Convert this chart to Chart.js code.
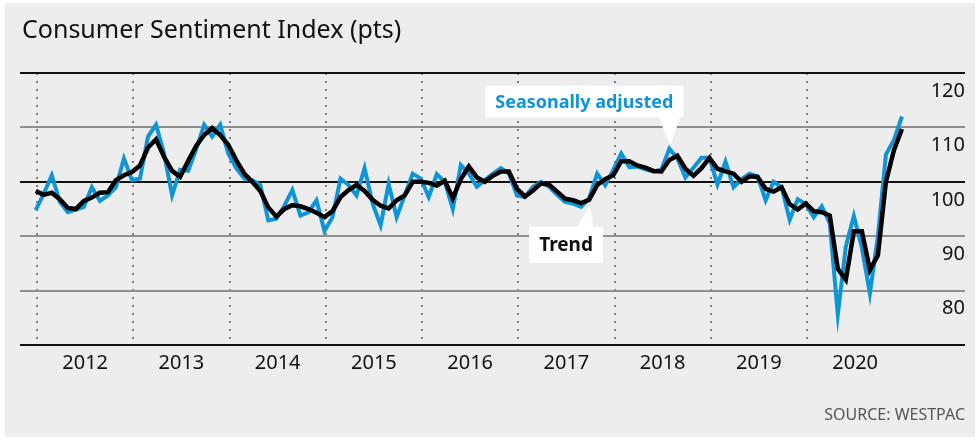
<!DOCTYPE html>
<html>
<head>
<meta charset="utf-8">
<script src="https://cdn.jsdelivr.net/npm/chart.js@4.4.1/dist/chart.umd.min.js"></script>
<style>
  html, body { margin: 0; padding: 0; background: #fff; }
  #panel { position: absolute; left: 5px; top: 3px; width: 970px; height: 434px; background: #ededed; }
  #sentimentChart { position: absolute; left: 0; top: 0; }
</style>
</head>
<body>
<div id="panel"></div>
<canvas id="sentimentChart" width="980" height="444"></canvas>
<script>
// Westpac consumer sentiment, monthly from Dec 2011 to Dec 2020
const firstYear = 2011;
const firstMonth = 12;
const years = [2012, 2013, 2014, 2015, 2016, 2017, 2018, 2019, 2020];
const yLabels = [80, 90, 100, 110, 120];

const seasonallyAdjusted = [
  94.8,
  97.8, 101.2, 96.3, 94.4, 94.9, 95.4, 99.0, 96.5, 97.5, 99.0, 104.3, 100.3,
  100.6, 108.3, 110.5, 105.2, 97.5, 102.2, 102.0, 105.9, 110.5, 108.3, 110.5, 105.2,
  102.5, 100.6, 100.3, 99.4, 92.9, 93.2, 95.6, 98.5, 93.8, 94.4, 96.6, 91.0,
  93.5, 100.6, 99.4, 97.5, 102.5, 96.0, 92.0, 99.6, 93.5, 97.5, 101.5, 100.6,
  97.2, 101.4, 100.0, 95.0, 103.1, 101.5, 99.1, 100.3, 101.5, 102.5, 101.5, 97.5,
  97.2, 99.1, 100.0, 99.1, 97.6, 96.3, 96.0, 95.4, 97.0, 101.5, 99.4, 102.2,
  105.2, 102.7, 102.8, 102.3, 101.9, 102.2, 106.1, 104.3, 100.8, 102.6, 104.4, 104.4,
  99.5, 103.7, 99.0, 100.5, 101.5, 101.0, 96.6, 100.0, 99.0, 93.0, 96.8, 95.9,
  93.5, 95.5, 92.4, 75.6, 88.1, 93.7, 87.9, 79.5, 90.0, 105.0, 107.7, 112.0
];

const trend = [
  98.3,
  97.6, 98.0, 96.8, 95.2, 95.0, 96.5, 97.1, 98.0, 98.1, 100.3, 101.2, 101.8,
  103.0, 106.3, 107.8, 104.6, 102.0, 100.9, 103.8, 106.6, 108.6, 109.9, 108.6, 106.8,
  104.0, 101.5, 100.0, 98.3, 95.3, 93.6, 95.0, 95.7, 95.5, 95.0, 94.3, 93.5,
  94.6, 97.2, 98.5, 99.4, 98.3, 96.7, 95.6, 95.1, 96.6, 97.5, 100.0, 100.0,
  99.8, 99.3, 100.2, 97.0, 100.5, 102.8, 100.8, 100.0, 101.1, 101.9, 101.9, 98.7,
  97.3, 98.4, 99.7, 99.5, 98.2, 96.9, 96.6, 96.1, 96.7, 99.4, 100.5, 101.2,
  103.8, 103.8, 103.0, 102.6, 102.0, 101.9, 104.0, 104.8, 102.4, 101.1, 102.5, 104.4,
  102.4, 101.9, 101.5, 100.0, 101.0, 100.9, 98.7, 98.2, 99.0, 95.9, 94.9, 96.0,
  94.6, 94.4, 93.8, 84.0, 82.0, 90.9, 90.9, 83.8, 86.5, 100.0, 105.8, 109.7
];

const titleText = 'Consumer Sentiment Index (pts)';
const sourceText = 'SOURCE: WESTPAC';

// month index -> decimal year on the x axis
function monthPos(i) {
  return firstYear + (firstMonth - 1) / 12 + i / 12 + 0.07;
}

const saIdx = 79;     // label "Seasonally adjusted" points here
const trendIdx = 69;  // label "Trend" points here

function drawCallout(ctx, o) {
  ctx.font = o.font;
  const w = ctx.measureText(o.text).width + o.padX * 2;
  const left = o.left(w), top = o.top;
  ctx.fillStyle = '#fff';
  ctx.fillRect(left, top, w, o.h);
  ctx.beginPath();
  ctx.moveTo(o.base[0], o.baseY);
  ctx.lineTo(o.tip[0], o.tip[1]);
  ctx.lineTo(o.base[1], o.baseY);
  ctx.closePath();
  ctx.fill();
  ctx.fillStyle = o.color;
  ctx.textAlign = 'left';
  ctx.textBaseline = 'middle';
  ctx.fillText(o.text, left + o.padX, top + o.h / 2 + 1);
}

const decorations = {
  id: 'decorations',
  afterDraw(chart) {
    const { ctx, scales: { x, y } } = chart;
    ctx.save();
    ctx.fillStyle = '#111';
    ctx.font = '25px "Noto Sans"';
    ctx.textBaseline = 'middle';
    ctx.fillText(titleText, 22, 31);

    ctx.fillStyle = '#555';
    ctx.font = '16px "Noto Sans"';
    ctx.textAlign = 'right';
    ctx.fillText(sourceText, 965, 415);

    // Seasonally adjusted callout
    const ax = x.getPixelForValue(monthPos(saIdx));
    const ay = y.getPixelForValue(seasonallyAdjusted[saIdx]);
    drawCallout(ctx, {
      text: 'Seasonally adjusted', font: 'bold 18px "Noto Sans"', color: '#0e95d8',
      padX: 10, h: 32, top: ay - 63, left: w => ax + 14 - w,
      base: [ax - 11, ax + 11], baseY: ay - 32, tip: [ax + 1, ay - 3]
    });

    // Trend callout
    const bx = x.getPixelForValue(monthPos(trendIdx));
    const by = y.getPixelForValue(trend[trendIdx]);
    drawCallout(ctx, {
      text: 'Trend', font: 'bold 19px "Noto Sans"', color: '#111',
      padX: 10, h: 36, top: by + 27, left: () => bx - 60,
      base: [bx - 12, bx + 4], baseY: by + 28, tip: [bx + 1, by + 5]
    });
    ctx.restore();
  }
};

const ctx = document.getElementById('sentimentChart').getContext('2d');
const sentimentChart = new Chart(ctx, {
  type: 'line',
  data: {
    datasets: [{
      label: 'Trend',
      data: trend.map((v, i) => ({ x: monthPos(i), y: v })),
      borderColor: '#000',
      borderWidth: 4.5
    }, {
      label: 'Seasonally adjusted',
      data: seasonallyAdjusted.map((v, i) => ({ x: monthPos(i), y: v })),
      borderColor: '#0e95d8',
      borderWidth: 4
    }]
  },
  options: {
    responsive: false,
    animation: false,
    layout: { padding: { top: 73, left: 20, right: 15, bottom: 63 } },
    plugins: { legend: { display: false }, tooltip: { enabled: false } },
    elements: { point: { radius: 0 }, line: { tension: 0 } },
    scales: {
      x: {
        type: 'linear',
        min: 2012 - 17 / 96.25,
        max: 2012 + 928 / 96.25,
        afterBuildTicks: axis => { axis.ticks = years.map(v => ({ value: v + 0.5 })); },
        ticks: {
          autoSkip: false, maxRotation: 0, padding: 6, color: '#111',
          font: { family: 'Noto Sans', size: 20 },
          callback: v => Math.floor(v)
        },
        grid: {
          offset: true, drawTicks: false, lineWidth: 2,
          color: c => c.tick ? '#7d7d7d' : 'rgba(0,0,0,0)'
        },
        border: { display: false, dash: [2, 6] }
      },
      y: {
        position: 'right',
        min: 70,
        max: 120,
        ticks: {
          stepSize: 10, mirror: true, padding: 0, labelOffset: 18, color: '#111',
          font: { family: 'Noto Sans', size: 20 },
          callback: v => yLabels.includes(v) ? v : ''
        },
        grid: {
          drawTicks: false, lineWidth: 2,
          color: c => [120, 100, 70].includes(c.tick.value) ? '#111' : '#8e8e8e'
        },
        border: { display: false }
      }
    }
  },
  plugins: [decorations]
});
</script>
</body>
</html>
